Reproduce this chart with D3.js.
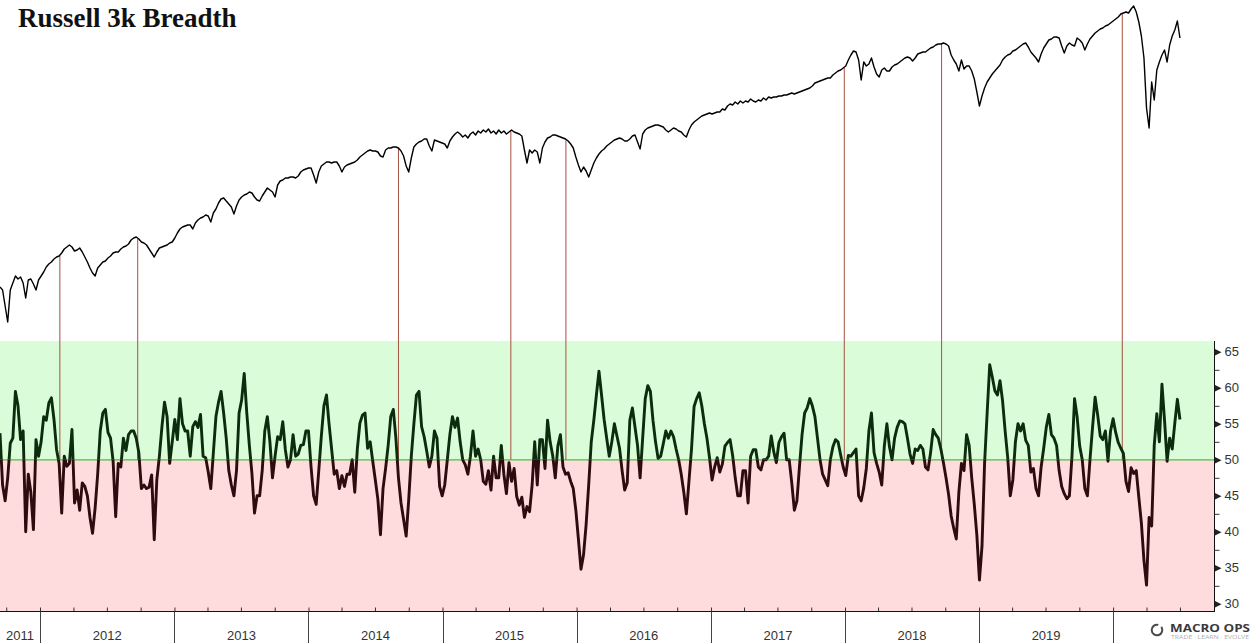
<!DOCTYPE html>
<html>
<head>
<meta charset="utf-8">
<script src="https://cdn.jsdelivr.net/npm/d3@7"></script>
<style>
  body { margin: 0; background: #fff; }
  svg { display: block; }
</style>
</head>
<body>
<div id="chart-area"></div>
<script>
const width = 1255, height = 643;

// weekly observations, first one on this date
const startDate = '2011-09-14';
const stepDays = 7;

// Russell 3000 index level (weekly)
const russell3000 = [
	832, 820, 756, 692, 820, 848, 876, 864, 872, 848,
	788, 860, 864, 844, 820, 860, 876, 892, 912, 924,
	932, 944, 952, 956, 968, 984, 992, 1000, 992, 976,
	980, 988, 972, 952, 932, 908, 888, 876, 908, 920,
	932, 936, 948, 956, 968, 972, 972, 984, 992, 996,
	1004, 1020, 1028, 1032, 1024, 1012, 1008, 1000, 984, 968,
	952, 972, 988, 992, 996, 1000, 1008, 1012, 1028, 1048,
	1064, 1072, 1076, 1080, 1080, 1064, 1088, 1100, 1108, 1112,
	1120, 1116, 1092, 1128, 1144, 1168, 1184, 1188, 1176, 1164,
	1152, 1124, 1156, 1180, 1192, 1200, 1204, 1212, 1208, 1192,
	1180, 1176, 1196, 1212, 1228, 1220, 1212, 1192, 1240, 1256,
	1260, 1268, 1268, 1272, 1272, 1268, 1276, 1292, 1300, 1304,
	1308, 1308, 1280, 1248, 1292, 1316, 1324, 1332, 1332, 1328,
	1332, 1332, 1316, 1292, 1312, 1320, 1324, 1328, 1332, 1340,
	1352, 1360, 1368, 1376, 1380, 1376, 1376, 1372, 1356, 1352,
	1380, 1388, 1388, 1392, 1392, 1388, 1376, 1356, 1316, 1292,
	1348, 1392, 1404, 1412, 1416, 1424, 1424, 1396, 1376, 1420,
	1416, 1412, 1408, 1404, 1388, 1416, 1432, 1444, 1452, 1444,
	1432, 1440, 1428, 1444, 1452, 1440, 1456, 1448, 1460, 1452,
	1464, 1448, 1456, 1444, 1460, 1448, 1456, 1444, 1452, 1460,
	1452, 1448, 1444, 1436, 1380, 1328, 1380, 1368, 1380, 1372,
	1328, 1388, 1412, 1428, 1432, 1440, 1440, 1436, 1432, 1428,
	1424, 1416, 1404, 1388, 1352, 1320, 1292, 1312, 1296, 1272,
	1300, 1328, 1348, 1364, 1376, 1384, 1396, 1404, 1412, 1420,
	1424, 1428, 1424, 1416, 1416, 1424, 1436, 1440, 1412, 1384,
	1444, 1460, 1468, 1472, 1476, 1480, 1480, 1476, 1472, 1460,
	1452, 1460, 1468, 1464, 1456, 1452, 1440, 1432, 1460, 1480,
	1492, 1500, 1508, 1516, 1520, 1524, 1528, 1524, 1528, 1532,
	1532, 1544, 1540, 1556, 1564, 1560, 1572, 1564, 1576, 1568,
	1576, 1572, 1584, 1576, 1572, 1580, 1576, 1588, 1580, 1592,
	1588, 1592, 1592, 1596, 1596, 1600, 1600, 1604, 1608, 1604,
	1608, 1612, 1616, 1620, 1624, 1628, 1636, 1648, 1652, 1656,
	1660, 1664, 1668, 1668, 1680, 1688, 1696, 1700, 1708, 1716,
	1740, 1760, 1776, 1772, 1740, 1660, 1732, 1716, 1724, 1748,
	1712, 1684, 1672, 1700, 1708, 1696, 1696, 1712, 1720, 1724,
	1732, 1740, 1748, 1752, 1748, 1736, 1748, 1764, 1768, 1772,
	1772, 1780, 1788, 1792, 1800, 1804, 1804, 1808, 1804, 1796,
	1760, 1740, 1724, 1696, 1740, 1704, 1716, 1716, 1696, 1664,
	1612, 1556, 1596, 1628, 1652, 1668, 1684, 1696, 1708, 1720,
	1740, 1752, 1760, 1764, 1776, 1780, 1788, 1796, 1804, 1808,
	1792, 1772, 1760, 1748, 1732, 1764, 1788, 1804, 1820, 1824,
	1832, 1832, 1828, 1796, 1768, 1796, 1808, 1800, 1796, 1828,
	1820, 1808, 1780, 1804, 1824, 1836, 1848, 1856, 1864, 1868,
	1876, 1880, 1888, 1896, 1904, 1912, 1924, 1928, 1932, 1928,
	1944, 1956, 1932, 1892, 1836, 1748, 1548, 1468, 1652, 1580,
	1700, 1732, 1760, 1780, 1732, 1800, 1836, 1860, 1896, 1828
];

// % of Russell 3000 members in uptrend (weekly)
const breadth = [
	53.7, 46.5, 44.3, 47.5, 52.3, 53, 59.5, 57.5, 52.8, 54,
	40, 48, 45.5, 40.3, 52.8, 50.5, 52.5, 56, 55.5, 57.9,
	58.6, 55.6, 51.4, 49.5, 42.6, 50.5, 49.1, 49.5, 54.2, 44,
	45.8, 43, 46.8, 46.3, 45, 42, 39.8, 43.3, 48, 54,
	56.5, 57, 53.8, 53, 49.8, 42.1, 49.5, 49, 53, 51.3,
	53.5, 54, 54, 53, 51, 46, 46.5, 46, 46.2, 47.9,
	38.9, 47.2, 50.5, 54.6, 58, 56, 49.5, 52.5, 55.6, 52.8,
	58.5, 55, 54, 54, 50.5, 54.6, 55.3, 54.5, 56.3, 50.5,
	50.3, 48.3, 46, 51, 56, 58, 59.5, 56.5, 53, 48.5,
	46.5, 45, 48.5, 56.5, 58.3, 62, 56.5, 52, 48.1, 42.6,
	45, 45, 48.5, 54, 56, 52.5, 47.5, 50.5, 53.2, 52.8,
	55.3, 51.4, 49, 50, 53.5, 50.5, 50.8, 52, 52.1, 54,
	54, 49, 45, 43.8, 48.5, 53.3, 57.5, 59, 55, 51.5,
	48, 48.5, 46, 47.8, 46.3, 48, 48, 50, 45.5, 51.5,
	55.1, 56.2, 56.5, 51.6, 52.5, 49.8, 47.2, 44.5, 39.6, 46,
	48.8, 52, 56, 57, 53, 47.5, 44, 41.7, 39.4, 44.5,
	50.5, 55, 59, 59.5, 54.6, 53.2, 51.2, 49, 50.5, 54,
	53, 46.3, 45, 46.5, 50, 53.5, 56, 54.5, 55.8, 52.5,
	50, 49.3, 48, 50.5, 54, 50.5, 51.5, 50, 47, 46.6,
	48.5, 45.8, 50.5, 47.5, 47.5, 52, 48, 45.3, 49.6, 47,
	48.8, 44.9, 43.7, 44.8, 42, 43.5, 42.8, 46.5, 52.5, 46.5,
	52.8, 52.8, 48.8, 55.5, 52.5, 50.6, 47.5, 51.9, 53.5, 49,
	48, 48.2, 47, 46, 43, 39, 34.8, 36.8, 41, 46.5,
	52.5, 55.5, 59, 62.3, 59, 55.6, 53, 50.5, 52.5, 55,
	53.3, 51.6, 48.5, 45.8, 46.8, 55.5, 57.2, 54.6, 52, 47.5,
	53, 58.5, 60.3, 59.5, 55.5, 52.5, 50.2, 50.5, 52.2, 54,
	53, 54, 53.2, 51.5, 50, 48, 45.5, 42.5, 47, 51.5,
	57.4, 58.5, 59.3, 57.5, 55, 53, 50.3, 47.2, 49, 50.3,
	48.3, 49.4, 51.9, 52.4, 52.8, 50.6, 47.5, 45, 45, 48.5,
	48.5, 44, 50.5, 51.4, 51.4, 49, 48.6, 50, 50, 50.5,
	53.3, 51.1, 49.6, 52.4, 53.2, 53.7, 50, 50, 46.8, 43,
	44.3, 49.1, 53.5, 56.5, 57.2, 58.5, 57.5, 56, 53, 50,
	48, 47.2, 46.4, 50, 51.8, 52.8, 52.5, 50.7, 49, 47.8,
	50.6, 50.5, 51, 51.5, 45, 44.3, 46.1, 48.8, 54, 56.5,
	51, 49.5, 48.3, 46.5, 51.9, 55, 51.8, 50, 53, 54.5,
	55.4, 55.3, 55, 53, 50.8, 49.5, 51.5, 51.3, 52, 51.5,
	49, 48.6, 51, 54.2, 53.5, 53, 51.5, 49.6, 47.5, 45.2,
	42.2, 40.5, 39, 45.5, 49.5, 48.5, 53.5, 52, 47.5, 43.8,
	39.5, 33.3, 38, 49.5, 56.5, 63.2, 61.5, 59.6, 59, 61,
	58.2, 54, 50.3, 45, 47.2, 52.5, 55, 54, 55, 52.7,
	52, 48.3, 48.8, 46, 45, 49, 51.6, 54.5, 56.3, 53.5,
	53, 52, 48.5, 46.3, 45.3, 44.6, 45, 50.5, 58.5, 56,
	51.9, 50, 46, 45, 50, 54.5, 58.7, 56.2, 53.3, 52.8,
	54, 49.8, 54, 55.7, 53.8, 52.4, 51.6, 50.9, 47, 45.6,
	48.9, 48.1, 48.5, 44.8, 41.2, 36, 32.6, 42, 40.8, 52,
	56.4, 52.5, 60.5, 55.5, 49.8, 53, 51.5, 55.1, 58.4, 55.6
];

// days where breadth crossed back under 50 near a high
const signalDates = ['2012-02-24', '2012-09-23', '2014-09-03', '2015-07-06',
	'2015-12-03', '2017-12-30', '2018-09-21', '2020-01-26'];

const breadthTicks = [30, 35, 40, 45, 50, 55, 60, 65];
const breadthMinorTicks = [32.5, 37.5, 42.5, 47.5, 52.5, 57.5, 62.5];
const yearLabels = [2011, 2012, 2013, 2014, 2015, 2016, 2017, 2018, 2019];
const threshold = 50;

const parseDate = d3.timeParse('%Y-%m-%d');
const t0 = parseDate(startDate);
const dates = russell3000.map((d, i) => d3.timeDay.offset(t0, i * stepDays));

const priceData = russell3000.map((v, i) => ({ date: dates[i], value: v }));
const breadthData = breadth.map((v, i) => ({ date: dates[i], value: v }));

const plotRight = 1214;

let svg = d3.select('#chart-area')
	.append('svg')
		.attr('width', width)
		.attr('height', height);

// SCALES
const xScale = d3.scaleTime()
	.domain([t0, parseDate('2020-09-29')])
	.range([0, plotRight - 1]);

const priceScale = d3.scaleLinear()
	.domain([680, 1960])
	.range([325, 5]);

const breadthScale = d3.scaleLinear()
	.domain([29, 66.5])
	.range([611, 341]);

const y50 = breadthScale(threshold);

// BANDS
svg.append('rect')
	.attr('x', 0)
	.attr('y', breadthScale(66.5))
	.attr('width', plotRight)
	.attr('height', y50 - breadthScale(66.5))
	.attr('fill', '#dbfcd9');

svg.append('rect')
	.attr('x', 0)
	.attr('y', y50)
	.attr('width', plotRight)
	.attr('height', breadthScale(29) - y50)
	.attr('fill', '#fedcdd');

svg.append('line')
	.attr('x1', 0).attr('x2', plotRight)
	.attr('y1', y50).attr('y2', y50)
	.attr('stroke', '#4fbb45')
	.attr('stroke-width', 1.2);

// SIGNAL LINES (from price line down to the 50 line)
const bisect = d3.bisector(d => d.date).center;
signalDates.forEach(s => {
	const d = parseDate(s);
	const p = priceData[bisect(priceData, d)];
	svg.append('line')
		.attr('x1', xScale(d)).attr('x2', xScale(d))
		.attr('y1', priceScale(p.value))
		.attr('y2', y50)
		.attr('stroke', '#a5523f')
		.attr('stroke-width', 1);
});

// BREADTH LINE, green above 50, dark red below
const defs = svg.append('defs');
defs.append('clipPath').attr('id', 'clip-above')
	.append('rect').attr('x', 0).attr('y', 0).attr('width', width).attr('height', y50);
defs.append('clipPath').attr('id', 'clip-below')
	.append('rect').attr('x', 0).attr('y', y50).attr('width', width).attr('height', height - y50);

const breadthLine = d3.line()
	.x(d => xScale(d.date))
	.y(d => breadthScale(d.value));

[['clip-above', '#0c2c0e'], ['clip-below', '#2c0c0e']].forEach(([clip, color]) => {
	svg.append('path')
		.datum(breadthData)
		.attr('clip-path', `url(#${clip})`)
		.attr('fill', 'none')
		.attr('stroke', color)
		.attr('stroke-width', 2.9)
		.attr('stroke-linejoin', 'round')
		.attr('d', breadthLine);
});

// PRICE LINE
const priceLine = d3.line()
	.x(d => xScale(d.date))
	.y(d => priceScale(d.value));

svg.append('path')
	.datum(priceData)
	.attr('fill', 'none')
	.attr('stroke', '#000')
	.attr('stroke-width', 1.4)
	.attr('stroke-linejoin', 'round')
	.attr('d', priceLine);

// TITLE
svg.append('text')
	.attr('x', 18)
	.attr('y', 27)
	.attr('font-family', '"Liberation Serif", "Times New Roman", serif')
	.attr('font-weight', 'bold')
	.attr('font-size', 27)
	.attr('fill', '#111')
	.text('Russell 3k Breadth');

// BOTTOM AXIS
const axisFont = '"Liberation Sans", Arial, sans-serif';
const xAxisCall = d3.axisBottom(xScale)
	.ticks(d3.timeMonth.every(3))
	.tickSizeInner(-4)
	.tickSizeOuter(0)
	.tickFormat('');

const xAxisGroup = svg.append('g')
	.attr('transform', 'translate(0,611.5)')
	.call(xAxisCall);
xAxisGroup.select('.domain').remove();
xAxisGroup.selectAll('.tick line').attr('stroke', '#333');

svg.append('line')
	.attr('x1', 0).attr('x2', plotRight + 1)
	.attr('y1', 611.5).attr('y2', 611.5)
	.attr('stroke', '#111');

xScale.ticks(d3.timeYear).forEach(d => {
	const x = Math.round(xScale(d)) + 0.5;
	svg.append('line')
		.attr('x1', x).attr('x2', x)
		.attr('y1', 611.5).attr('y2', height)
		.attr('stroke', '#444');
});

yearLabels.forEach(yr => {
	const a = Math.max(xScale(new Date(yr, 0, 1)), 0);
	const b = xScale(new Date(yr + 1, 0, 1));
	svg.append('text')
		.attr('x', (a + b) / 2)
		.attr('y', 640)
		.attr('text-anchor', 'middle')
		.attr('font-family', axisFont)
		.attr('font-size', 13)
		.attr('fill', '#333')
		.text(yr);
});

// RIGHT AXIS
const yAxisCall = d3.axisRight(breadthScale)
	.tickValues(breadthTicks)
	.tickSize(0)
	.tickPadding(10);

const yAxisGroup = svg.append('g')
	.attr('transform', `translate(${plotRight + 0.5},0)`)
	.call(yAxisCall);
yAxisGroup.select('.domain')
	.attr('d', `M0,${breadthScale(66.5)}V612`)
	.attr('stroke', '#111');
yAxisGroup.selectAll('.tick text')
	.attr('font-family', axisFont)
	.attr('font-size', 13)
	.attr('fill', '#333');
yAxisGroup.selectAll('.tick')
	.append('path')
	.attr('d', 'M0,-3.5L7,0L0,3.5Z')
	.attr('fill', '#222');

const minorAxisCall = d3.axisRight(breadthScale)
	.tickValues(breadthMinorTicks)
	.tickSize(5)
	.tickFormat('');
const minorGroup = svg.append('g')
	.attr('transform', `translate(${plotRight + 0.5},0)`)
	.call(minorAxisCall);
minorGroup.select('.domain').remove();
minorGroup.selectAll('.tick line').attr('stroke', '#333');

// LOGO
const logo = svg.append('g').attr('transform', 'translate(1157,630)');
logo.append('path')
	.attr('d', d3.arc()({ innerRadius: 4.3, outerRadius: 6.3, startAngle: 0.95, endAngle: 2 * Math.PI + 0.25 }))
	.attr('fill', '#4a4a4a');

svg.append('text')
	.attr('x', 1170)
	.attr('y', 632)
	.attr('font-family', '"Open Sans", "Liberation Sans", sans-serif')
	.attr('font-weight', 'bold')
	.attr('font-size', 10.5)
	.attr('textLength', 80)
	.attr('lengthAdjust', 'spacingAndGlyphs')
	.attr('fill', '#3a3a3a')
	.text('MACRO OPS');

svg.append('text')
	.attr('x', 1171)
	.attr('y', 639)
	.attr('font-family', '"Open Sans", "Liberation Sans", sans-serif')
	.attr('font-size', 4.5)
	.attr('textLength', 78)
	.attr('lengthAdjust', 'spacingAndGlyphs')
	.attr('fill', '#b0b0b0')
	.text('TRADE · LEARN · EVOLVE');
</script>
</body>
</html>
